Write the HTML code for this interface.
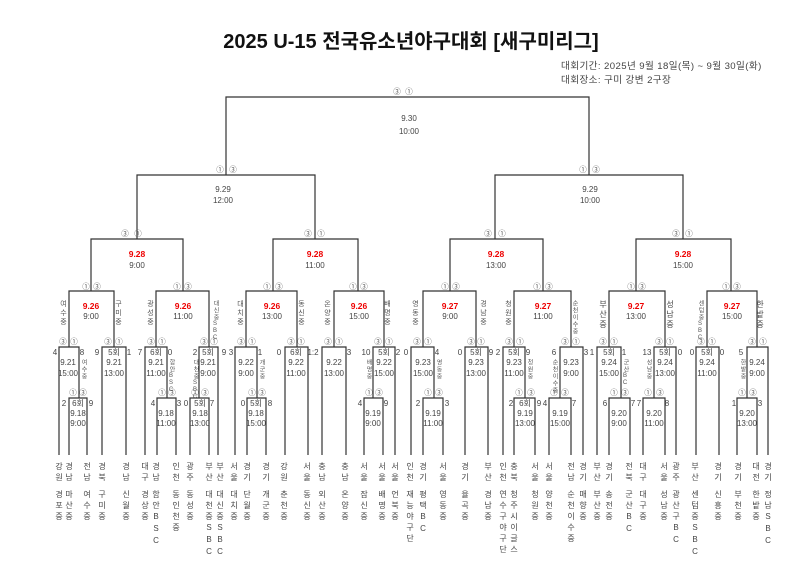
<!DOCTYPE html>
<html><head><meta charset="utf-8"><style>
html,body{margin:0;padding:0;background:#fff;}
svg{display:block;}
text{font-family:"Liberation Sans","Noto Sans CJK KR",sans-serif;}
.t{font-size:8px;fill:#444;text-anchor:middle;}
.c{font-size:7.5px;fill:#555;text-anchor:middle;}
.r{font-size:8.5px;fill:#e00;font-weight:bold;text-anchor:middle;}
.s{font-size:8px;fill:#444;text-anchor:middle;}
.v{font-size:8px;fill:#444;writing-mode:vertical-rl;text-orientation:upright;letter-spacing:3px;}
.vs{font-size:6px;fill:#555;writing-mode:vertical-rl;text-orientation:upright;letter-spacing:1px;}
.vm{font-size:7px;fill:#555;writing-mode:vertical-rl;text-orientation:upright;letter-spacing:2px;}
path{fill:none;stroke:#333;stroke-width:1.2;}
</style></head><body>
<svg width="800" height="567" viewBox="0 0 800 567" xmlns="http://www.w3.org/2000/svg">
<text x="411" y="48" style="font-size:20px;font-weight:bold;fill:#111;text-anchor:middle;font-family:'Liberation Sans','Noto Sans CJK KR',sans-serif">2025 U-15 전국유소년야구대회 [새구미리그]</text>
<text x="561" y="69" style="font-size:9.6px;fill:#444;letter-spacing:0.4px">대회기간: 2025년 9월 18일(목) ~ 9월 30일(화)</text>
<text x="561" y="83" style="font-size:9.6px;fill:#444;letter-spacing:0.4px">대회장소: 구미 강변 2구장</text>

<!-- tree lines -->
<path d="M226 175 V97 H589 V175"/>
<path d="M137 239 V175 H315 V239 M495 239 V175 H683 V239"/>
<path d="M91 291 V239 H183 V291 M273 291 V239 H358 V291 M450 291 V239 H543 V291 M636 291 V239 H731 V291"/>
<path d="M69 347 V291 H114 V347 M156 347 V291 H209 V347 M246 347 V291 H297 V347 M334 347 V291 H384 V347 M423 347 V291 H476 V347 M514 347 V291 H571 V347 M609 347 V291 H665 V347 M707 347 V291 H757 V347"/>
<path d="M59 455 V347 H79 V398 M69 455 V398 H87 V455 M102 455 V347 H126 V455"/>
<path d="M145 455 V347 H167 V398 M157 455 V398 H176 V455 M199 398 V347 H218 V455 M190 455 V398 H209 V455"/>
<path d="M235 455 V347 H257 V398 M247 455 V398 H266 V455 M285 455 V347 H308 V455"/>
<path d="M322 455 V347 H346 V455 M373 398 V347 H395 V455 M364 455 V398 H383 V455"/>
<path d="M411 455 V347 H434 V398 M423 455 V398 H443 V455 M465 455 V347 H488 V455"/>
<path d="M503 455 V347 H525 V398 M514 455 V398 H535 V455 M560 398 V347 H583 V455 M549 455 V398 H571 V455"/>
<path d="M597 455 V347 H621 V398 M609 455 V398 H630 V455 M654 398 V347 H676 V455 M643 455 V398 H665 V455"/>
<path d="M696 455 V347 H719 V455 M747 398 V347 H768 V455 M737 455 V398 H757 V455"/>

<!-- final / semis / quarters -->
<text class="c" x="397" y="94">③</text><text class="c" x="409" y="94">①</text>
<text class="t" x="409" y="121">9.30</text><text class="t" x="409" y="134">10:00</text>
<text class="c" x="220" y="172">①</text><text class="c" x="233" y="172">③</text>
<text class="t" x="223" y="192">9.29</text><text class="t" x="223" y="203">12:00</text>
<text class="c" x="583" y="172">①</text><text class="c" x="596" y="172">③</text>
<text class="t" x="590" y="192">9.29</text><text class="t" x="590" y="203">10:00</text>
<text class="c" x="125" y="236">③</text><text class="c" x="138" y="236">①</text>
<text class="c" x="308" y="236">③</text><text class="c" x="321" y="236">①</text>
<text class="c" x="488" y="236">③</text><text class="c" x="502" y="236">①</text>
<text class="c" x="676" y="236">③</text><text class="c" x="689" y="236">①</text>
<text class="r" x="137" y="257">9.28</text><text class="t" x="137" y="268">9:00</text>
<text class="r" x="315" y="257">9.28</text><text class="t" x="315" y="268">11:00</text>
<text class="r" x="496" y="257">9.28</text><text class="t" x="496" y="268">13:00</text>
<text class="r" x="683" y="257">9.28</text><text class="t" x="683" y="268">15:00</text>

<!-- group headers -->
<text class="c" x="86" y="289">①</text><text class="c" x="97" y="289">③</text>
<text class="c" x="177" y="289">①</text><text class="c" x="188" y="289">③</text>
<text class="c" x="267" y="289">①</text><text class="c" x="279" y="289">③</text>
<text class="c" x="353" y="289">①</text><text class="c" x="364" y="289">③</text>
<text class="c" x="445" y="289">①</text><text class="c" x="456" y="289">③</text>
<text class="c" x="537" y="289">①</text><text class="c" x="549" y="289">③</text>
<text class="c" x="631" y="289">①</text><text class="c" x="642" y="289">③</text>
<text class="c" x="726" y="289">①</text><text class="c" x="737" y="289">③</text>
<text class="r" x="91" y="309">9.26</text><text class="t" x="91" y="319">9:00</text>
<text class="r" x="183" y="309">9.26</text><text class="t" x="183" y="319">11:00</text>
<text class="r" x="272" y="309">9.26</text><text class="t" x="272" y="319">13:00</text>
<text class="r" x="359" y="309">9.26</text><text class="t" x="359" y="319">15:00</text>
<text class="r" x="450" y="309">9.27</text><text class="t" x="450" y="319">9:00</text>
<text class="r" x="543" y="309">9.27</text><text class="t" x="543" y="319">11:00</text>
<text class="r" x="636" y="309">9.27</text><text class="t" x="636" y="319">13:00</text>
<text class="r" x="732" y="309">9.27</text><text class="t" x="732" y="319">15:00</text>
<text class="vm" x="63" y="300">여수중</text><text class="vm" x="118" y="300">구미중</text>
<text class="vm" x="150" y="300">광성중</text><text class="vs" x="215" y="300">대신중SBC</text>
<text class="vm" x="240" y="300">대치중</text><text class="vm" x="301" y="300">동신중</text>
<text class="vm" x="327" y="300">온양중</text><text class="vm" x="387" y="300">배명중</text>
<text class="vm" x="415" y="300">영동중</text><text class="vm" x="483" y="300">경남중</text>
<text class="vm" x="508" y="300">청원중</text><text class="vs" x="574" y="300">순천이수중</text>
<text class="v" x="603" y="300" style="letter-spacing:2px">부산중</text><text class="v" x="670" y="300" style="letter-spacing:2px">성남중</text>
<text class="vs" x="700" y="300">센텀중SBC</text><text class="v" x="760" y="300" style="letter-spacing:2px">한밭중</text>

<!-- R32 box labels -->
<text class="c" x="63" y="344">③</text><text class="c" x="74" y="344">①</text>
<text class="c" x="108" y="344">③</text><text class="c" x="119" y="344">①</text>
<text class="c" x="151" y="344">③</text><text class="c" x="162" y="344">①</text>
<text class="c" x="204" y="344">③</text><text class="c" x="214" y="344">①</text>
<text class="c" x="241" y="344">③</text><text class="c" x="252" y="344">①</text>
<text class="c" x="291" y="344">③</text><text class="c" x="301" y="344">①</text>
<text class="c" x="328" y="344">③</text><text class="c" x="339" y="344">①</text>
<text class="c" x="378" y="344">③</text><text class="c" x="389" y="344">①</text>
<text class="c" x="417" y="344">③</text><text class="c" x="428" y="344">①</text>
<text class="c" x="471" y="344">③</text><text class="c" x="481" y="344">①</text>
<text class="c" x="509" y="344">③</text><text class="c" x="520" y="344">①</text>
<text class="c" x="565" y="344">③</text><text class="c" x="576" y="344">①</text>
<text class="c" x="603" y="344">③</text><text class="c" x="614" y="344">①</text>
<text class="c" x="659" y="344">③</text><text class="c" x="670" y="344">①</text>
<text class="c" x="701" y="344">③</text><text class="c" x="712" y="344">①</text>
<text class="c" x="752" y="344">③</text><text class="c" x="763" y="344">①</text>
<!-- sub box labels -->
<text class="c" x="73" y="395">①</text><text class="c" x="83" y="395">③</text>
<text class="c" x="162" y="395">①</text><text class="c" x="172" y="395">③</text>
<text class="c" x="195" y="395">①</text><text class="c" x="205" y="395">③</text>
<text class="c" x="252" y="395">①</text><text class="c" x="262" y="395">③</text>
<text class="c" x="369" y="395">①</text><text class="c" x="379" y="395">③</text>
<text class="c" x="428" y="395">①</text><text class="c" x="439" y="395">③</text>
<text class="c" x="519" y="395">①</text><text class="c" x="531" y="395">③</text>
<text class="c" x="554" y="395">①</text><text class="c" x="565" y="395">③</text>
<text class="c" x="614" y="395">①</text><text class="c" x="625" y="395">③</text>
<text class="c" x="648" y="395">①</text><text class="c" x="660" y="395">③</text>
<text class="c" x="742" y="395">①</text><text class="c" x="753" y="395">③</text>

<!-- scores -->
<text class="s" x="55" y="355">4</text><text class="s" x="82" y="355">8</text>
<text class="s" x="97" y="355">9</text><text class="s" x="129" y="355">1</text>
<text class="s" x="140" y="355">7</text><text class="s" x="170" y="355">0</text>
<text class="s" x="195" y="355">2</text><text class="s" x="224" y="355">9</text><text class="s" x="231" y="355">3</text>
<text class="s" x="260" y="355">1</text>
<text class="s" x="279" y="355">0</text><text class="s" x="313" y="355">1:2</text>
<text class="s" x="349" y="355">3</text>
<text class="s" x="366" y="355">10</text><text class="s" x="398" y="355">2</text>
<text class="s" x="406" y="355">0</text><text class="s" x="437" y="355">4</text>
<text class="s" x="460" y="355">0</text><text class="s" x="491" y="355">9</text><text class="s" x="498" y="355">2</text>
<text class="s" x="528" y="355">9</text>
<text class="s" x="554" y="355">6</text><text class="s" x="586" y="355">3</text><text class="s" x="592" y="355">1</text>
<text class="s" x="624" y="355">1</text>
<text class="s" x="647" y="355">13</text><text class="s" x="680" y="355">0</text>
<text class="s" x="692" y="355">0</text><text class="s" x="722" y="355">0</text>
<text class="s" x="741" y="355">5</text>
<text class="s" x="64" y="406">2</text><text class="s" x="91" y="406">9</text>
<text class="s" x="153" y="406">4</text><text class="s" x="179" y="406">3</text>
<text class="s" x="186" y="406">0</text><text class="s" x="212" y="406">7</text>
<text class="s" x="243" y="406">0</text><text class="s" x="270" y="406">8</text>
<text class="s" x="360" y="406">4</text><text class="s" x="386" y="406">9</text>
<text class="s" x="418" y="406">2</text><text class="s" x="447" y="406">3</text>
<text class="s" x="511" y="406">2</text><text class="s" x="539" y="406">9</text>
<text class="s" x="545" y="406">4</text><text class="s" x="574" y="406">7</text>
<text class="s" x="605" y="406">6</text><text class="s" x="633" y="406">7</text>
<text class="s" x="639" y="406">7</text><text class="s" x="667" y="406">8</text>
<text class="s" x="734" y="406">1</text><text class="s" x="760" y="406">3</text>
<!-- small vertical names -->
<text class="vs" x="83" y="359">여수중</text>
<text class="vs" x="171" y="359">함안BSC</text>
<text class="vs" x="195" y="359">대천중SBC</text>
<text class="vs" x="261" y="359">개군중</text>
<text class="vs" x="368" y="359">배명중</text>
<text class="vs" x="438" y="359">영동중</text>
<text class="vs" x="529" y="359">청원중</text>
<text class="vs" x="554" y="359">순천이수중</text>
<text class="vs" x="625" y="359">군산BC</text>
<text class="vs" x="648" y="359">성남중</text>
<text class="vs" x="742" y="359">한밭중</text>

<!-- box dates -->
<text class="t" x="68" y="365">9.21</text><text class="t" x="68" y="376">15:00</text>
<text class="t" x="114" y="355">5회</text><text class="t" x="114" y="365">9.21</text><text class="t" x="114" y="376">13:00</text>
<text class="t" x="156" y="355">6회</text><text class="t" x="156" y="365">9.21</text><text class="t" x="156" y="376">11:00</text>
<text class="t" x="208" y="355">5회</text><text class="t" x="208" y="365">9.21</text><text class="t" x="208" y="376">9:00</text>
<text class="t" x="246" y="365">9.22</text><text class="t" x="246" y="376">9:00</text>
<text class="t" x="296" y="355">6회</text><text class="t" x="296" y="365">9.22</text><text class="t" x="296" y="376">11:00</text>
<text class="t" x="334" y="365">9.22</text><text class="t" x="334" y="376">13:00</text>
<text class="t" x="384" y="355">5회</text><text class="t" x="384" y="365">9.22</text><text class="t" x="384" y="376">15:00</text>
<text class="t" x="423" y="365">9.23</text><text class="t" x="423" y="376">15:00</text>
<text class="t" x="476" y="355">5회</text><text class="t" x="476" y="365">9.23</text><text class="t" x="476" y="376">13:00</text>
<text class="t" x="514" y="355">5회</text><text class="t" x="514" y="365">9.23</text><text class="t" x="514" y="376">11:00</text>
<text class="t" x="571" y="365">9.23</text><text class="t" x="571" y="376">9:00</text>
<text class="t" x="609" y="355">5회</text><text class="t" x="609" y="365">9.24</text><text class="t" x="609" y="376">15:00</text>
<text class="t" x="665" y="355">5회</text><text class="t" x="665" y="365">9.24</text><text class="t" x="665" y="376">13:00</text>
<text class="t" x="707" y="355">5회</text><text class="t" x="707" y="365">9.24</text><text class="t" x="707" y="376">11:00</text>
<text class="t" x="757" y="365">9.24</text><text class="t" x="757" y="376">9:00</text>
<text class="t" x="78" y="406">6회</text><text class="t" x="78" y="416">9.18</text><text class="t" x="78" y="426">9:00</text>
<text class="t" x="166" y="416">9.18</text><text class="t" x="166" y="426">11:00</text>
<text class="t" x="200" y="406">5회</text><text class="t" x="200" y="416">9.18</text><text class="t" x="200" y="426">13:00</text>
<text class="t" x="256" y="406">5회</text><text class="t" x="256" y="416">9.18</text><text class="t" x="256" y="426">15:00</text>
<text class="t" x="373" y="416">9.19</text><text class="t" x="373" y="426">9:00</text>
<text class="t" x="433" y="416">9.19</text><text class="t" x="433" y="426">11:00</text>
<text class="t" x="525" y="406">6회</text><text class="t" x="525" y="416">9.19</text><text class="t" x="525" y="426">13:00</text>
<text class="t" x="560" y="416">9.19</text><text class="t" x="560" y="426">15:00</text>
<text class="t" x="619" y="416">9.20</text><text class="t" x="619" y="426">9:00</text>
<text class="t" x="654" y="416">9.20</text><text class="t" x="654" y="426">11:00</text>
<text class="t" x="747" y="416">9.20</text><text class="t" x="747" y="426">13:00</text>

<!-- leaf labels -->
<text class="v" x="59" y="462">강원</text><text class="v" x="59" y="490">경포중</text>
<text class="v" x="69" y="462">경남</text><text class="v" x="69" y="490">마산중</text>
<text class="v" x="87" y="462">전남</text><text class="v" x="87" y="490">여수중</text>
<text class="v" x="102" y="462">경북</text><text class="v" x="102" y="490">구미중</text>
<text class="v" x="126" y="462">경남</text><text class="v" x="126" y="490">신월중</text>
<text class="v" x="145" y="462">대구</text><text class="v" x="145" y="490">경상중</text>
<text class="v" x="156" y="462">경남</text><text class="v" x="156" y="490">함안BSC</text>
<text class="v" x="176" y="462">인천</text><text class="v" x="176" y="490">동인천중</text>
<text class="v" x="190" y="462">광주</text><text class="v" x="190" y="490">동성중</text>
<text class="v" x="209" y="462">부산</text><text class="v" x="209" y="490">대천중SBC</text>
<text class="v" x="220" y="462">부산</text><text class="v" x="220" y="490">대신중SBC</text>
<text class="v" x="234" y="462">서울</text><text class="v" x="234" y="490">대치중</text>
<text class="v" x="247" y="462">경기</text><text class="v" x="247" y="490">단월중</text>
<text class="v" x="266" y="462">경기</text><text class="v" x="266" y="490">개군중</text>
<text class="v" x="284" y="462">강원</text><text class="v" x="284" y="490">춘천중</text>
<text class="v" x="307" y="462">서울</text><text class="v" x="307" y="490">동신중</text>
<text class="v" x="322" y="462">충남</text><text class="v" x="322" y="490">외산중</text>
<text class="v" x="345" y="462">충남</text><text class="v" x="345" y="490">온양중</text>
<text class="v" x="364" y="462">서울</text><text class="v" x="364" y="490">잠신중</text>
<text class="v" x="382" y="462">서울</text><text class="v" x="382" y="490">배명중</text>
<text class="v" x="395" y="462">서울</text><text class="v" x="395" y="490">언북중</text>
<text class="v" x="410" y="462">인천</text><text class="v" x="410" y="490">재능야구단</text>
<text class="v" x="423" y="462">경기</text><text class="v" x="423" y="490">평택BC</text>
<text class="v" x="443" y="462">서울</text><text class="v" x="443" y="490">영동중</text>
<text class="v" x="465" y="462">경기</text><text class="v" x="465" y="490">율곡중</text>
<text class="v" x="488" y="462">부산</text><text class="v" x="488" y="490">경남중</text>
<text class="v" x="503" y="462">인천</text><text class="v" x="503" y="490">연수구야구단</text>
<text class="v" x="514" y="462">충북</text><text class="v" x="514" y="490">청주시이글스</text>
<text class="v" x="535" y="462">서울</text><text class="v" x="535" y="490">청원중</text>
<text class="v" x="549" y="462">서울</text><text class="v" x="549" y="490">양천중</text>
<text class="v" x="571" y="462">전남</text><text class="v" x="571" y="490">순천이수중</text>
<text class="v" x="583" y="462">경기</text><text class="v" x="583" y="490">매향중</text>
<text class="v" x="597" y="462">부산</text><text class="v" x="597" y="490">부산중</text>
<text class="v" x="609" y="462">경기</text><text class="v" x="609" y="490">송전중</text>
<text class="v" x="629" y="462">전북</text><text class="v" x="629" y="490">군산BC</text>
<text class="v" x="643" y="462">대구</text><text class="v" x="643" y="490">대구중</text>
<text class="v" x="664" y="462">서울</text><text class="v" x="664" y="490">성남중</text>
<text class="v" x="676" y="462">광주</text><text class="v" x="676" y="490">광산구BC</text>
<text class="v" x="695" y="462">부산</text><text class="v" x="695" y="490">센텀중SBC</text>
<text class="v" x="718" y="462">경기</text><text class="v" x="718" y="490">신흥중</text>
<text class="v" x="738" y="462">경기</text><text class="v" x="738" y="490">부천중</text>
<text class="v" x="756" y="462">대전</text><text class="v" x="756" y="490">한밭중</text>
<text class="v" x="768" y="462">경기</text><text class="v" x="768" y="490">정남SBC</text>
</svg>
</body></html>
